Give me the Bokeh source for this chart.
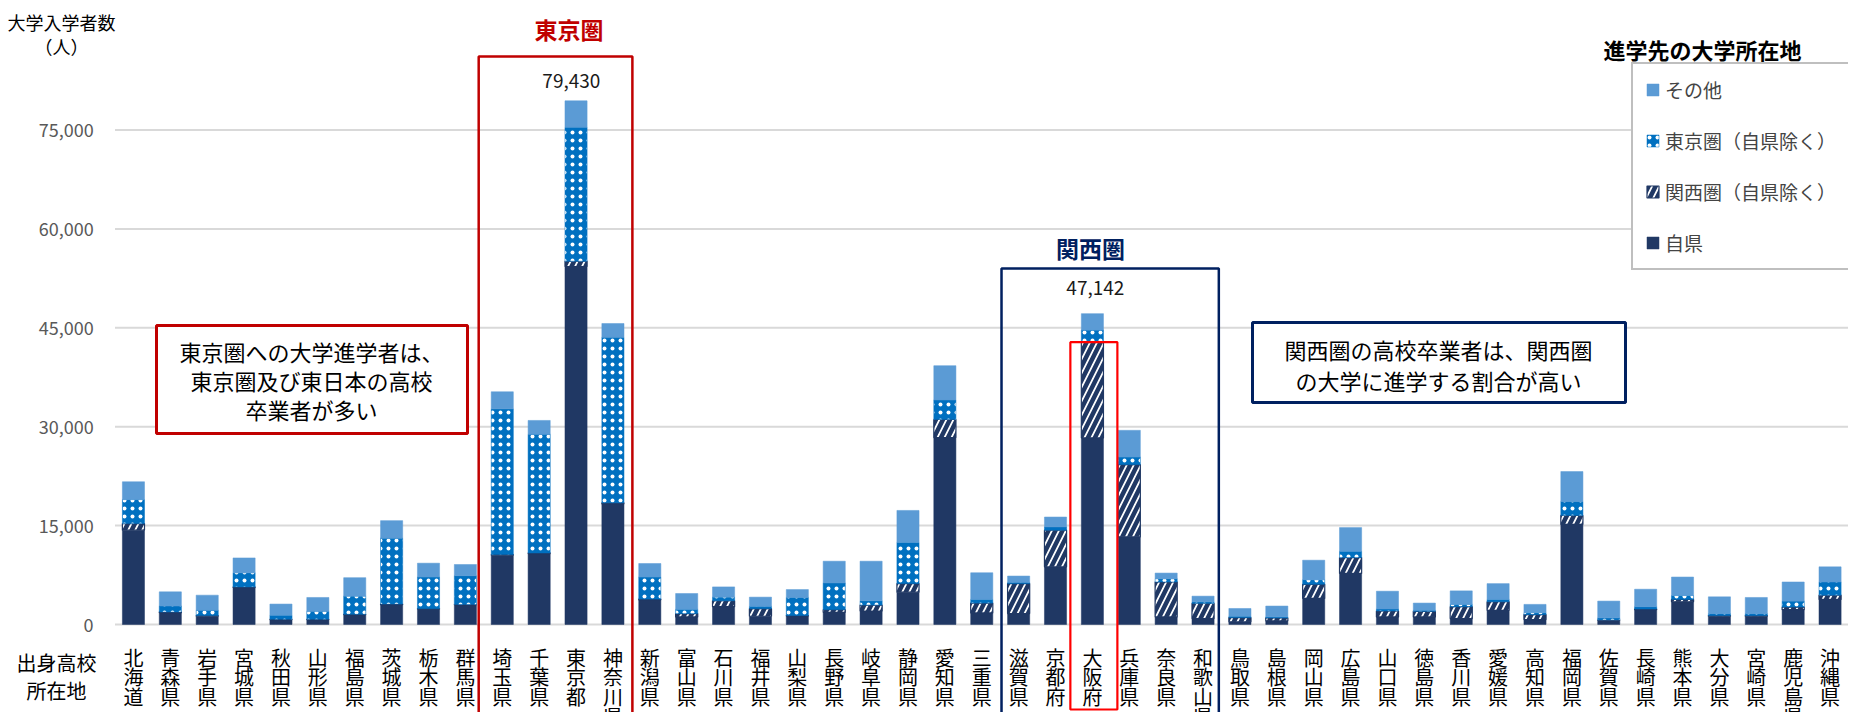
from bokeh.plotting import figure
from bokeh.models import (Range1d, ColumnDataSource, Label, BoxAnnotation, Legend, LegendItem)
from bokeh.embed import file_html
from bokeh.resources import INLINE

# ---------------- data ----------------
prefectures = ["北海道", "青森県", "岩手県", "宮城県", "秋田県", "山形県", "福島県", "茨城県", "栃木県", "群馬県",
               "埼玉県", "千葉県", "東京都", "神奈川県", "新潟県", "富山県", "石川県", "福井県", "山梨県", "長野県",
               "岐阜県", "静岡県", "愛知県", "三重県", "滋賀県", "京都府", "大阪府", "兵庫県", "奈良県", "和歌山県",
               "鳥取県", "島根県", "岡山県", "広島県", "山口県", "徳島県", "香川県", "愛媛県", "高知県", "福岡県",
               "佐賀県", "長崎県", "熊本県", "大分県", "宮崎県", "鹿児島県", "沖縄県"]

own_pref = [14300, 1800, 1250, 5600, 750, 750, 1500, 3000, 2350, 3000,
            10500, 10750, 54300, 18300, 3750, 1150, 2700, 1250, 1300, 1850,
            2050, 4900, 28350, 1750, 1650, 8750, 28300, 13300, 1150, 900,
            400, 550, 3950, 7750, 1150, 1150, 900, 2150, 750, 15200,
            650, 2250, 3450, 1250, 1250, 2250, 3800]
kansai_area = [1000, 100, 100, 100, 50, 50, 50, 100, 50, 50,
               100, 100, 800, 150, 100, 500, 900, 1150, 50, 400,
               900, 1300, 2750, 1500, 4550, 5550, 14600, 10950, 5300, 2300,
               650, 450, 2150, 2400, 900, 850, 1800, 1300, 750, 1350,
               50, 100, 350, 100, 100, 400, 650]
tokyo_area = [3650, 900, 800, 2150, 600, 1200, 2750, 10000, 4800, 4350,
              22100, 18000, 20300, 25100, 3350, 650, 550, 350, 2750, 4050,
              650, 6250, 2950, 550, 200, 500, 1750, 1150, 500, 250,
              200, 150, 700, 950, 300, 150, 350, 350, 300, 2100,
              300, 350, 600, 300, 300, 900, 2000]
other = [2700, 2150, 2300, 2250, 1700, 2100, 2800, 2650, 2100, 1700,
         2600, 2100, 4030, 2100, 2050, 2400, 1550, 1400, 1200, 3300,
         6000, 4850, 5200, 4050, 950, 1500, 2492, 4050, 850, 850,
         1180, 1650, 2950, 3600, 2700, 1100, 2050, 2400, 1250, 4550,
         2550, 2650, 2800, 2550, 2450, 2900, 2300]

series_labels = ["自県", "関西圏（自県除く）", "東京圏（自県除く）", "その他"]
y_ticks = [0, 15000, 30000, 45000, 60000, 75000]

FONT = "Noto Sans CJK JP"
NAVY = "#203864"
BLUE = "#0070c0"
LIGHT = "#5b9bd5"
GRID = "#d9d9d9"

# ---------------- layout (canvas pixel positions) ----------------
W, H = 1848, 712
N = len(prefectures)
FL, FR = 114.5, 1848    # x of category start / end
FB = 624                # y of value 0
PX_PER_15K = 98.9
SLOT = (FR - FL) / N


def px(xp):  # canvas x -> data x
    return (xp - FL) / SLOT


def py(yp):  # canvas y -> data y
    return (FB - yp) * 15000 / PX_PER_15K


def cat(xp):  # reference x -> category position
    return (xp - 114.5) / 37.34


src = ColumnDataSource(dict(
    x=[i + 0.5 for i in range(N)],
    own=own_pref, kansai=kansai_area, tokyo=tokyo_area, other=other,
))

p = figure(width=W, height=H, x_range=Range1d(px(0), px(W)), y_range=Range1d(py(H), py(0)),
           x_axis_type=None, y_axis_type=None,
           output_backend="svg", toolbar_location=None, min_border=0,
           outline_line_color=None, background_fill_color="white")

# grid lines and baseline, drawn from the tick values
p.segment(x0=0, x1=N, y0=y_ticks, y1=y_ticks, line_color=GRID, line_width=2, level="underlay")

renderers = p.vbar_stack(
    ["own", "kansai", "tokyo", "other"], x="x", width=0.6, source=src,
    fill_color=[NAVY, "white", BLUE, LIGHT],
    line_color=[NAVY, NAVY, BLUE, LIGHT],
    line_width=[0.5, 1.2, 0.5, 0.5],
    hatch_pattern=[None, "right_diagonal_line", "dot", None],
    hatch_color=[NAVY, NAVY, "white", LIGHT],
    hatch_scale=[12, 14, 8, 12],
    hatch_weight=[1, 4.5, 2, 1],
)


def add_text(text, x, y, size, color="black", bold=False, align="center", baseline="middle", lh=1.2):
    p.add_layout(Label(x=x, y=y, text=text, text_align=align, text_baseline=baseline,
                       text_font=FONT, text_font_size=f"{size}px", text_color=color,
                       text_line_height=lh,
                       text_font_style="bold" if bold else "normal"))


# y tick labels: right edge at x=93, placed by their centre
TICK_PX = 18
for v in y_ticks:
    s = f"{v:,}"
    width = sum(0.27 * TICK_PX if ch == "," else 0.55 * TICK_PX for ch in s)
    add_text(s, px(93 - width / 2), v, TICK_PX, "#595959")

# category labels (vertical text)
for i, name in enumerate(prefectures):
    add_text("\n".join(name), i + 0.5, py(642), 20, baseline="top", lh=0.68)

# region boxes
p.add_layout(BoxAnnotation(left=cat(482.7), right=cat(638.3), top=py(56), bottom=py(800),
                           fill_alpha=0, line_alpha=1, line_color="#c00000", line_width=2.5))
p.add_layout(BoxAnnotation(left=cat(1012), right=cat(1232), top=py(268), bottom=py(800),
                           fill_alpha=0, line_alpha=1, line_color="#002060", line_width=2.5))
p.add_layout(BoxAnnotation(left=cat(1081.7), right=cat(1129.3), top=py(341.7), bottom=py(709),
                           fill_alpha=0, line_alpha=1, line_color="#ff0000", line_width=2.2))

# text boxes
p.add_layout(BoxAnnotation(left=px(156), right=px(467), top=py(325), bottom=py(433),
                           fill_color="white", fill_alpha=1, line_alpha=1,
                           line_color="#c00000", line_width=3))
p.add_layout(BoxAnnotation(left=px(1252), right=px(1625), top=py(322), bottom=py(402),
                           fill_color="white", fill_alpha=1, line_alpha=1,
                           line_color="#002060", line_width=3))

for t, yy in zip(["東京圏への大学進学者は、", "東京圏及び東日本の高校", "卒業者が多い"], [350, 379, 408]):
    add_text(t, px(311), py(yy), 22)
for t, yy in zip(["関西圏の高校卒業者は、関西圏", "の大学に進学する割合が高い"], [348, 379]):
    add_text(t, px(1438), py(yy), 22)

add_text("東京圏", cat(574), py(28), 23, "#c00000", bold=True)
add_text("関西圏", cat(1102), py(247), 23, "#002060", bold=True)

totals = [a + b + c + d for a, b, c, d in zip(own_pref, kansai_area, tokyo_area, other)]
i_tokyo = prefectures.index("東京都")
i_osaka = prefectures.index("大阪府")
add_text(f"{totals[i_tokyo]:,}", cat(576.5), py(80), 19, "#1a1a1a")
add_text(f"{totals[i_osaka]:,}", cat(1107), py(287), 19, "#1a1a1a")

add_text("大学入学者数", px(61), py(21), 18)
add_text("（人）", px(61), py(45), 18)
add_text("出身高校", px(56), py(662), 20)
add_text("所在地", px(56), py(690), 20)

# legend
add_text("進学先の大学所在地", px(1603), py(48), 22, bold=True, align="left")
r_own, r_kansai, r_tokyo, r_other = renderers
legend = Legend(items=[LegendItem(label=series_labels[3], renderers=[r_other]),
                       LegendItem(label=series_labels[2], renderers=[r_tokyo]),
                       LegendItem(label=series_labels[1], renderers=[r_kansai]),
                       LegendItem(label=series_labels[0], renderers=[r_own])],
                location=(1631, H - 270), margin=0, padding=12, spacing=24,
                glyph_width=15, glyph_height=15, label_standoff=5,
                label_width=180, label_height=22,
                label_text_font=FONT, label_text_font_size="19px",
                border_line_color="#808080", border_line_width=2,
                background_fill_color="white", background_fill_alpha=1)
p.add_layout(legend)

open("out.html", "w").write(file_html(p, INLINE))
